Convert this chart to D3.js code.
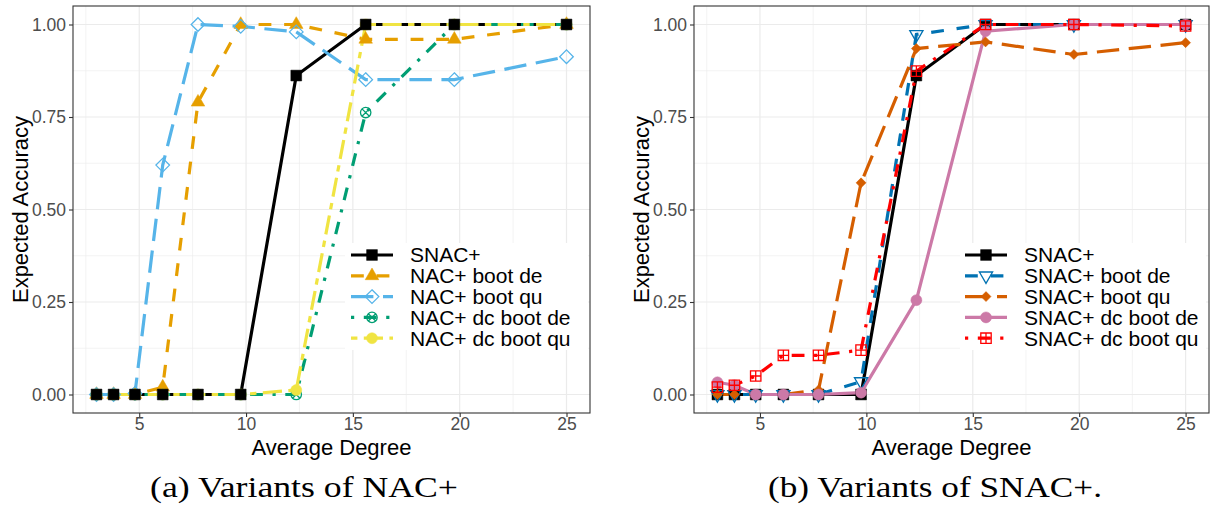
<!DOCTYPE html>
<html>
<head>
<meta charset="utf-8">
<script src="https://cdn.jsdelivr.net/npm/d3@7"></script>
<style>
  body { margin: 0; background: #ffffff; }
  svg { display: block; }
</style>
</head>
<body>
<script>
// Average degree of the test graphs (shared x values of every series)
const degree = [3, 3.8, 4.8, 6.1, 7.75, 9.75, 12.35, 15.6, 19.75, 25];

// Panel (a): variants of NAC+
const snac          = [0, 0, 0, 0, 0, 0, 0.862, 1, 1, 1];
const nacBootDe     = [0, 0, 0, 0.02, 0.79, 1, 1, 0.96, 0.96, 1];
const nacBootQu     = [0, 0, 0.003, 0.62, 1, 0.995, 0.98, 0.851, 0.851, 0.913];
const nacDcBootDe   = [0, 0, 0, 0, 0, 0, 0, 0.762, 1, 1];
const nacDcBootQu   = [0, 0, 0, 0, 0, 0, 0.012, 1, 1, 1];

// Panel (b): variants of SNAC+
const snacBootDe    = [0, 0, 0, 0, 0, 0.035, 0.973, 1, 1, 1];
const snacBootQu    = [0, 0, 0, 0, 0.012, 0.572, 0.935, 0.953, 0.919, 0.951];
const snacDcBootDe  = [0.033, 0.025, 0, 0, 0, 0.005, 0.255, 0.982, 1, 1];
const snacDcBootQu  = [0.02, 0.025, 0.05, 0.106, 0.106, 0.12, 0.874, 1, 1, 0.996];

// Labels
const namesA = ["SNAC+", "NAC+ boot de", "NAC+ boot qu", "NAC+ dc boot de", "NAC+ dc boot qu"];
const namesB = ["SNAC+", "SNAC+ boot de", "SNAC+ boot qu", "SNAC+ dc boot de", "SNAC+ dc boot qu"];
const xTicks = [5, 10, 15, 20, 25];
const yTicks = [0, 0.25, 0.5, 0.75, 1];
const xTitle = "Average Degree";
const yTitle = "Expected Accuracy";
const captionA = "(a) Variants of NAC+";
const captionB = "(b) Variants of SNAC+.";

// ---------------------------------------------------------------------------
const W = 1217, H = 510;
const LW = 3.2;                       // line width, dash patterns scale with it
const dashes = {
  solid: null,
  dashed: [4, 4],
  longdash: [7, 3],
  dotdash: [1, 3, 4, 3],
  twodash: [2, 2, 6, 2]
};
function dashArray(t) {
  return dashes[t] ? dashes[t].map(d => d * LW).join(",") : null;
}

function circ(r) {
  return `M${r},0A${r},${r} 0 1,1 ${-r},0A${r},${r} 0 1,1 ${r},0Z`;
}
// Point glyphs (ggplot-like shapes); open shapes are stroked only
const shapes = {
  square:       { d: "M-5.4,-5.4H5.4V5.4H-5.4Z", open: false },
  triangle:     { d: "M0,-7.8L6.8,3.9L-6.8,3.9Z", open: false },
  diamond:      { d: "M0,-6.8L6.8,0L0,6.8L-6.8,0Z", open: true },
  circleCross:  { d: circ(5.2) + "M-3.68,-3.68L3.68,3.68M-3.68,3.68L3.68,-3.68", open: true },
  circle:       { d: circ(5.5), open: false },
  triangleDown: { d: "M0,7.6L6.6,-3.8L-6.6,-3.8Z", open: true },
  diamondSmall: { d: "M0,-5L5,0L0,5L-5,0Z", open: false },
  squarePlus:   { d: "M-5.2,-5.2H5.2V5.2H-5.2ZM0,-5.2V5.2M-5.2,0H5.2", open: true }
};

const svg = d3.select("body").append("svg")
  .attr("width", W).attr("height", H)
  .style("font-family", "'Liberation Sans', Arial, sans-serif");

svg.append("rect").attr("width", W).attr("height", H).attr("fill", "#ffffff");

function drawPanel(cfg) {
  const x = d3.scaleLinear().domain([1.9, 26.1]).range([cfg.left, cfg.right]);
  const y = d3.scaleLinear().domain([-0.05, 1.05]).range([cfg.bottom, cfg.top]);
  const g = svg.append("g");

  // panel background + grid
  g.append("rect")
    .attr("x", cfg.left).attr("y", cfg.top)
    .attr("width", cfg.right - cfg.left).attr("height", cfg.bottom - cfg.top)
    .attr("fill", "#ffffff");

  const xMinor = [2.5, 7.5, 12.5, 17.5, 22.5];
  const yMinor = [0.125, 0.375, 0.625, 0.875];
  const grid = g.append("g").attr("stroke", "#EBEBEB");
  grid.selectAll(".xm").data(xMinor).join("line")
    .attr("x1", d => x(d)).attr("x2", d => x(d))
    .attr("y1", cfg.top).attr("y2", cfg.bottom).attr("stroke-width", 0.6);
  grid.selectAll(".ym").data(yMinor).join("line")
    .attr("y1", d => y(d)).attr("y2", d => y(d))
    .attr("x1", cfg.left).attr("x2", cfg.right).attr("stroke-width", 0.6);
  grid.selectAll(".xM").data(xTicks).join("line")
    .attr("x1", d => x(d)).attr("x2", d => x(d))
    .attr("y1", cfg.top).attr("y2", cfg.bottom).attr("stroke-width", 1.2);
  grid.selectAll(".yM").data(yTicks).join("line")
    .attr("y1", d => y(d)).attr("y2", d => y(d))
    .attr("x1", cfg.left).attr("x2", cfg.right).attr("stroke-width", 1.2);

  // lines
  const line = d3.line().x((d, i) => x(degree[i])).y(d => y(d));
  cfg.series.forEach(s => {
    g.append("path")
      .attr("d", line(s.values))
      .attr("fill", "none")
      .attr("stroke", s.color)
      .attr("stroke-width", LW)
      .attr("stroke-dasharray", dashArray(s.dash));
  });

  // points
  cfg.pointOrder.forEach(k => {
    const s = cfg.series[k];
    const sh = shapes[s.shape];
    g.append("g").selectAll("path").data(s.values).join("path")
      .attr("transform", (d, i) => `translate(${x(degree[i])},${y(d)})`)
      .attr("d", sh.d)
      .attr("fill", sh.open ? "none" : s.color)
      .attr("stroke", s.color)
      .attr("stroke-width", sh.open ? 1.3 : 0.5);
  });

  // panel border
  g.append("rect")
    .attr("x", cfg.left).attr("y", cfg.top)
    .attr("width", cfg.right - cfg.left).attr("height", cfg.bottom - cfg.top)
    .attr("fill", "none").attr("stroke", "#333333").attr("stroke-width", 1.1);

  // axes
  const ax = g.append("g").attr("transform", `translate(0,${cfg.bottom})`)
    .call(d3.axisBottom(x).tickValues(xTicks).tickSize(4).tickPadding(1));
  const ay = g.append("g").attr("transform", `translate(${cfg.left},0)`)
    .call(d3.axisLeft(y).tickValues(yTicks).tickSize(4).tickPadding(3).tickFormat(d3.format(".2f")));
  [ax, ay].forEach(a => {
    a.select(".domain").remove();
    a.selectAll(".tick line").attr("stroke", "#333333").attr("stroke-width", 1.1);
    a.selectAll(".tick text").attr("fill", "#4D4D4D")
      .style("font-size", "17.5px").style("font-family", "'Liberation Sans', Arial, sans-serif");
  });

  // axis titles
  g.append("text")
    .attr("x", (cfg.left + cfg.right) / 2).attr("y", 455)
    .attr("text-anchor", "middle").style("font-size", "22px").attr("fill", "#000")
    .text(xTitle);
  g.append("text")
    .attr("transform", `translate(${cfg.yTitleX},${(cfg.top + cfg.bottom) / 2}) rotate(-90)`)
    .attr("text-anchor", "middle").style("font-size", "22px").attr("fill", "#000")
    .text(yTitle);

  // legend
  const L = cfg.legend;
  g.append("rect")
    .attr("x", L.boxX).attr("y", L.boxY).attr("width", L.boxW).attr("height", L.boxH)
    .attr("fill", "#ffffff");
  cfg.series.forEach((s, i) => {
    const ry = L.rowY + i * L.rowH;
    g.append("line")
      .attr("x1", L.keyX).attr("x2", L.keyX + L.keyW)
      .attr("y1", ry).attr("y2", ry)
      .attr("stroke", s.color).attr("stroke-width", LW)
      .attr("stroke-dasharray", dashArray(s.dash));
    const sh = shapes[s.shape];
    g.append("path")
      .attr("transform", `translate(${L.keyX + L.keyW / 2},${ry})`)
      .attr("d", sh.d)
      .attr("fill", sh.open ? "none" : s.color)
      .attr("stroke", s.color)
      .attr("stroke-width", sh.open ? 1.3 : 0.5);
    g.append("text")
      .attr("x", L.textX).attr("y", ry + 7.4)
      .style("font-size", "21px").attr("fill", "#000")
      .text(s.name);
  });

  // sub-caption
  g.append("text")
    .attr("x", cfg.captionX).attr("y", 497)
    .attr("text-anchor", "middle")
    .attr("textLength", cfg.captionW).attr("lengthAdjust", "spacingAndGlyphs")
    .style("font-family", "'Liberation Serif', 'DejaVu Serif', serif")
    .style("font-size", "30px").attr("fill", "#000")
    .text(cfg.caption);
}

drawPanel({
  left: 73, right: 590, top: 6, bottom: 413, yTitleX: 28,
  series: [
    { name: namesA[0], values: snac,        color: "#000000", dash: "solid",    shape: "square" },
    { name: namesA[1], values: nacBootDe,   color: "#E69F00", dash: "dashed",   shape: "triangle" },
    { name: namesA[2], values: nacBootQu,   color: "#56B4E9", dash: "longdash", shape: "diamond" },
    { name: namesA[3], values: nacDcBootDe, color: "#009E73", dash: "dotdash",  shape: "circleCross" },
    { name: namesA[4], values: nacDcBootQu, color: "#F0E442", dash: "twodash",  shape: "circle" }
  ],
  pointOrder: [1, 2, 3, 4, 0],
  legend: { boxX: 345, boxY: 243, boxW: 243, boxH: 107, keyX: 351, keyW: 42, textX: 410, rowY: 255, rowH: 20.8 },
  caption: captionA, captionX: 304, captionW: 308
});

drawPanel({
  left: 694, right: 1209, top: 6, bottom: 413, yTitleX: 649,
  series: [
    { name: namesB[0], values: snac,         color: "#000000", dash: "solid",    shape: "square" },
    { name: namesB[1], values: snacBootDe,   color: "#0072B2", dash: "dashed",   shape: "triangleDown" },
    { name: namesB[2], values: snacBootQu,   color: "#D55E00", dash: "longdash", shape: "diamondSmall" },
    { name: namesB[3], values: snacDcBootDe, color: "#CC79A7", dash: "solid",    shape: "circle" },
    { name: namesB[4], values: snacDcBootQu, color: "#FF0000", dash: "dotdash",  shape: "squarePlus" }
  ],
  pointOrder: [0, 1, 2, 3, 4],
  legend: { boxX: 960, boxY: 243, boxW: 246, boxH: 107, keyX: 965, keyW: 42, textX: 1024, rowY: 255, rowH: 20.8 },
  caption: captionB, captionX: 935, captionW: 334
});
</script>
</body>
</html>
